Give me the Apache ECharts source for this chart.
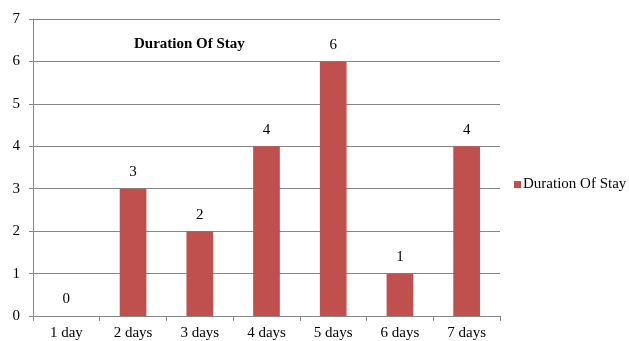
<!DOCTYPE html>
<html><head><meta charset="utf-8">
<script src="https://cdn.jsdelivr.net/npm/echarts@6/dist/echarts.min.js"></script>
<style>html,body{margin:0;padding:0;background:#fff;}#c{width:629px;height:341px;}</style>
</head><body><div id="c"></div>
<script>
const categories = ['1 day','2 days','3 days','4 days','5 days','6 days','7 days'];
const values = [0,3,2,4,6,1,4];
const seriesName = 'Duration Of Stay';
const chart = echarts.init(document.getElementById('c'));
const font = 'Liberation Serif';
chart.setOption({
  animation:false,
  title:{text:seriesName,left:134,top:37,padding:[0,0,0,0],textStyle:{fontFamily:font,fontWeight:'bold',fontSize:15,color:'#000'}},
  legend:{data:[seriesName],orient:'vertical',left:514,top:177,padding:0,icon:'rect',itemWidth:7,itemHeight:7,
    textStyle:{fontFamily:font,fontSize:15,color:'#000',padding:[0,0,0,-3]}},
  grid:{left:33,right:129,top:19,bottom:25},
  xAxis:{type:'category',data:categories,
    axisLine:{lineStyle:{color:'#868686'}},
    axisTick:{show:true,length:5,lineStyle:{color:'#868686'}},
    axisLabel:{fontFamily:font,fontSize:15,color:'#000',margin:10}},
  yAxis:{type:'value',min:0,max:7,interval:1,
    axisLine:{show:true,lineStyle:{color:'#868686'}},
    axisTick:{show:true,length:4,lineStyle:{color:'#868686'}},
    splitLine:{lineStyle:{color:'#868686'}},
    axisLabel:{fontFamily:font,fontSize:15,color:'#000',margin:13}},
  series:[{name:seriesName,type:'bar',data:values,barWidth:'40%',
    itemStyle:{color:'#C0504D'},
    label:{show:true,position:'top',distance:9,fontFamily:font,fontSize:15,color:'#000'}}]
});
</script></body></html>
